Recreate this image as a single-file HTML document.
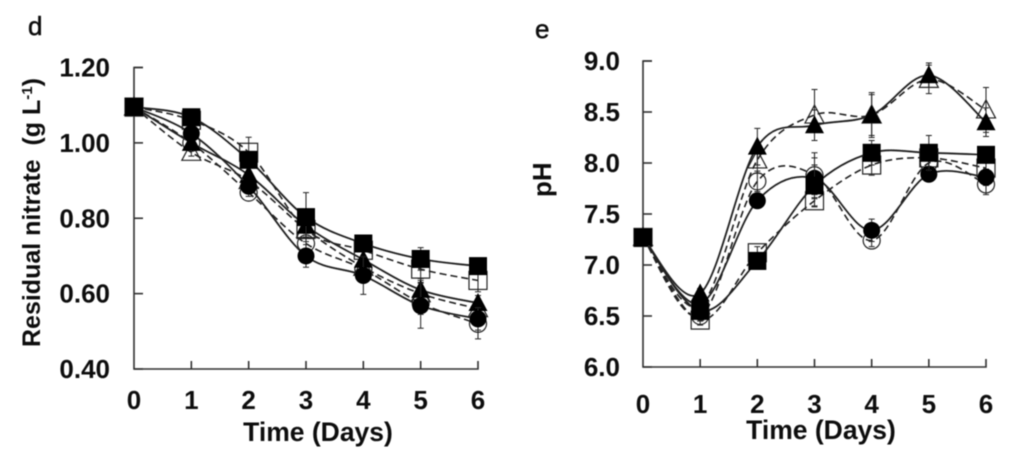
<!DOCTYPE html>
<html>
<head>
<meta charset="utf-8">
<style>
html,body{margin:0;padding:0;background:#fff;width:1024px;height:462px;overflow:hidden}
svg{display:block}
text{font-family:"Liberation Sans",sans-serif;fill:#111}
.tick{font-size:26px;font-weight:700}
.title{font-size:26.5px;font-weight:700}
</style>
</head>
<body>
<svg id="figure" width="1024" height="462" viewBox="0 0 1024 462" xmlns="http://www.w3.org/2000/svg">
<defs><filter id="soft" x="-5%" y="-5%" width="110%" height="110%"><feGaussianBlur stdDeviation="0.55"/></filter></defs>
<g id="root" filter="url(#soft)"></g>
</svg>
<script>
const days = [0, 1, 2, 3, 4, 5, 6];

const nitrateTicks = ["0.40", "0.60", "0.80", "1.00", "1.20"];
const nitrateFilledSquare = [1.095, 1.068, 0.955, 0.803, 0.733, 0.692, 0.673];
const nitrateOpenSquare = [1.095, 1.06, 0.975, 0.77, 0.715, 0.665, 0.635];
const nitrateFilledTriangle = [1.095, 1.0, 0.915, 0.78, 0.69, 0.61, 0.575];
const nitrateOpenTriangle = [1.095, 0.975, 0.9, 0.77, 0.67, 0.6, 0.56];
const nitrateFilledCircle = [1.095, 1.025, 0.885, 0.7, 0.648, 0.568, 0.533];
const nitrateOpenCircle = [1.095, 1.0, 0.868, 0.733, 0.665, 0.575, 0.52];
const nitrateFilledSquareErr = [0, 0.01, 0.02, 0.065, 0.01, 0.03, 0.02];
const nitrateOpenSquareErr = [0, 0.01, 0.04, 0.02, 0.02, 0.03, 0.03];
const nitrateFilledTriangleErr = [0, 0.01, 0.02, 0.02, 0.03, 0.03, 0.02];
const nitrateOpenTriangleErr = [0, 0.01, 0.02, 0.02, 0.03, 0.03, 0.02];
const nitrateFilledCircleErr = [0, 0.01, 0.01, 0.03, 0.05, 0.06, 0.03];
const nitrateOpenCircleErr = [0, 0.01, 0.01, 0.03, 0.02, 0.03, 0.04];

const phTicks = ["6.0", "6.5", "7.0", "7.5", "8.0", "8.5", "9.0"];
const phFilledSquare = [7.27, 6.55, 7.04, 7.78, 8.1, 8.1, 8.08];
const phOpenSquare = [7.27, 6.46, 7.12, 7.63, 7.98, 8.05, 7.95];
const phFilledTriangle = [7.27, 6.72, 8.16, 8.37, 8.47, 8.86, 8.4];
const phOpenTriangle = [7.27, 6.6, 8.03, 8.47, 8.47, 8.82, 8.52];
const phFilledCircle = [7.27, 6.62, 7.63, 7.85, 7.34, 7.89, 7.86];
const phOpenCircle = [7.27, 6.5, 7.82, 7.88, 7.24, 8.0, 7.79];
const phFilledSquareErr = [0, 0.05, 0.04, 0.2, 0.12, 0.17, 0.06];
const phOpenSquareErr = [0, 0.05, 0.06, 0.06, 0.1, 0.1, 0.1];
const phFilledTriangleErr = [0, 0.05, 0.18, 0.15, 0.22, 0.12, 0.14];
const phOpenTriangleErr = [0, 0.05, 0.13, 0.25, 0.2, 0.14, 0.22];
const phFilledCircleErr = [0, 0.05, 0.05, 0.2, 0.11, 0.06, 0.08];
const phOpenCircleErr = [0, 0.05, 0.1, 0.22, 0.06, 0.06, 0.1];

const NS = 'http://www.w3.org/2000/svg';
const root = document.getElementById('root');

function make(tag, attrs, parent) {
  const el = document.createElementNS(NS, tag);
  for (const k in attrs) el.setAttribute(k, attrs[k]);
  (parent || root).appendChild(el);
  return el;
}

function smoothPath(pts) {
  let d = 'M' + pts[0][0] + ' ' + pts[0][1];
  for (let i = 0; i < pts.length - 1; i++) {
    const p0 = pts[Math.max(i - 1, 0)];
    const p1 = pts[i];
    const p2 = pts[i + 1];
    const p3 = pts[Math.min(i + 2, pts.length - 1)];
    const c1x = p1[0] + (p2[0] - p0[0]) / 6;
    const c1y = p1[1] + (p2[1] - p0[1]) / 6;
    const c2x = p2[0] - (p3[0] - p1[0]) / 6;
    const c2y = p2[1] - (p3[1] - p1[1]) / 6;
    d += ' C' + c1x + ' ' + c1y + ' ' + c2x + ' ' + c2y + ' ' + p2[0] + ' ' + p2[1];
  }
  return d;
}

function drawMarker(shape, filled, cx, cy, parent) {
  const fill = filled ? '#000' : 'none';
  const stroke = filled ? 'none' : '#222';
  const common = { fill: fill, stroke: stroke, 'stroke-width': 1.2 };
  let el;
  if (shape === 'square') {
    el = make('rect', Object.assign({ x: cx - 9, y: cy - 9, width: 18, height: 18 }, common), parent);
  } else if (shape === 'circle') {
    el = make('circle', Object.assign({ cx: cx, cy: cy, r: 8.5 }, common), parent);
  } else {
    el = make('polygon', Object.assign({ points: (cx) + ',' + (cy - 10) + ' ' + (cx + 9.5) + ',' + (cy + 8) + ' ' + (cx - 9.5) + ',' + (cy + 8) }, common), parent);
  }
  return el;
}

function drawSeries(panel, sx, sy, values, errors, shape, filled, name) {
  const g = make('g', {}, panel);
  
  
  const pts = values.map(function (v, i) { return [sx(days[i]), sy(v)]; });
  const line = make('path', {
    d: smoothPath(pts), fill: 'none', stroke: '#222',
    'stroke-width': filled ? 1.8 : 1.6,
    'stroke-dasharray': filled ? 'none' : '7 4'
  }, g);
  
  
  values.forEach(function (v, i) {
    const e = errors[i];
    if (e > 0) {
      const x = sx(days[i]);
      const top = sy(v + e);
      const bot = sy(v - e);
      make('path', {
        d: 'M' + x + ' ' + top + 'V' + bot + 'M' + (x - 3) + ' ' + top + 'h6M' + (x - 3) + ' ' + bot + 'h6',
        stroke: '#222', 'stroke-width': 1, fill: 'none'
      }, g);
    }
  });
  values.forEach(function (v, i) {
    const m = drawMarker(shape, filled, sx(days[i]), sy(v), g);
    
    
  });
}

function drawPanel(cfg) {
  const panel = make('g', {});
  
  
  const sx = function (d) { return cfg.x0 + (cfg.x6 - cfg.x0) * d / 6; };
  const sy = function (v) { return cfg.yBottom + (cfg.yTop - cfg.yBottom) * (v - cfg.vMin) / (cfg.vMax - cfg.vMin); };

  const axes = make('path', {
    d: 'M' + (cfg.x0 + 9) + ' ' + cfg.yTop + 'H' + cfg.x0 + 'V' + cfg.yBottom + 'H' + cfg.x6 + 'V' + (cfg.yBottom - 8),
    fill: 'none', stroke: '#333', 'stroke-width': 1.6
  }, panel);
  
  

  cfg.ticks.forEach(function (label) {
    const y = sy(parseFloat(label));
    make('path', { d: 'M' + cfg.x0 + ' ' + y + 'h9', stroke: '#333', 'stroke-width': 1.6 }, panel);
    const t = make('text', { x: cfg.x0 - cfg.yLabelGap, y: y + 9, 'text-anchor': 'end', class: 'tick' }, panel);
    t.textContent = label;
    
    
  });
  days.forEach(function (d) {
    const x = sx(d);
    if (d > 0 && d < 6) make('path', { d: 'M' + x + ' ' + cfg.yBottom + 'v-8', stroke: '#333', 'stroke-width': 1.6 }, panel);
    const t = make('text', { x: x, y: cfg.xLabelY, 'text-anchor': 'middle', class: 'tick' }, panel);
    t.textContent = String(d);
    
    
  });

  cfg.series.forEach(function (s) {
    drawSeries(panel, sx, sy, s[0], s[1], s[2], s[3], s[4]);
  });
  return panel;
}

const panelD = drawPanel({
  name: 'residual-nitrate-panel', x0: 134, x6: 478, yTop: 67.5, yBottom: 369,
  vMin: 0.4, vMax: 1.2, ticks: nitrateTicks, yLabelGap: 24, xLabelY: 409,
  series: [
    [nitrateOpenTriangle, nitrateOpenTriangleErr, 'triangle', false, 'open-triangle-series'],
    [nitrateOpenCircle, nitrateOpenCircleErr, 'circle', false, 'open-circle-series'],
    [nitrateOpenSquare, nitrateOpenSquareErr, 'square', false, 'open-square-series'],
    [nitrateFilledTriangle, nitrateFilledTriangleErr, 'triangle', true, 'filled-triangle-series'],
    [nitrateFilledCircle, nitrateFilledCircleErr, 'circle', true, 'filled-circle-series'],
    [nitrateFilledSquare, nitrateFilledSquareErr, 'square', true, 'filled-square-series']
  ]
});

const panelE = drawPanel({
  name: 'ph-panel', x0: 643, x6: 986, yTop: 61, yBottom: 367,
  vMin: 6, vMax: 9, ticks: phTicks, yLabelGap: 23, xLabelY: 413,
  series: [
    [phOpenTriangle, phOpenTriangleErr, 'triangle', false, 'open-triangle-series'],
    [phOpenCircle, phOpenCircleErr, 'circle', false, 'open-circle-series'],
    [phOpenSquare, phOpenSquareErr, 'square', false, 'open-square-series'],
    [phFilledCircle, phFilledCircleErr, 'circle', true, 'filled-circle-series'],
    [phFilledSquare, phFilledSquareErr, 'square', true, 'filled-square-series'],
    [phFilledTriangle, phFilledTriangleErr, 'triangle', true, 'filled-triangle-series']
  ]
});

function addText(content, attrs, name, parent) {
  const t = make('text', attrs, parent);
  t.textContent = content;
  
  
  return t;
}

addText('d', { x: 28, y: 35, 'font-size': 26, stroke: '#111', 'stroke-width': 0.5 }, 'panel-d-label', panelD);
addText('e', { x: 535, y: 38, 'font-size': 26, stroke: '#111', 'stroke-width': 0.5 }, 'panel-e-label', panelE);
addText('Time (Days)', { x: 318, y: 441, 'text-anchor': 'middle', class: 'title' }, 'x-axis-title', panelD);
addText('Time (Days)', { x: 821, y: 439, 'text-anchor': 'middle', class: 'title' }, 'x-axis-title', panelE);

const yTitle = addText('', { transform: 'translate(40 347) rotate(-90)', 'font-size': 25, 'font-weight': 700 }, 'y-axis-title', panelD);
yTitle.textContent = 'Residual nitrate  (g L';
yTitle.setAttribute('xml:space', 'preserve');
yTitle.style.whiteSpace = 'pre';
const sup = make('tspan', { dy: -8, 'font-size': 15 }, yTitle);
sup.textContent = '-1';
const close = make('tspan', { dy: 8 }, yTitle);
close.textContent = ')';

addText('pH', { transform: 'translate(551 197) rotate(-90)', 'font-size': 26, 'font-weight': 700 }, 'y-axis-title', panelE);
</script>
</body>
</html>
